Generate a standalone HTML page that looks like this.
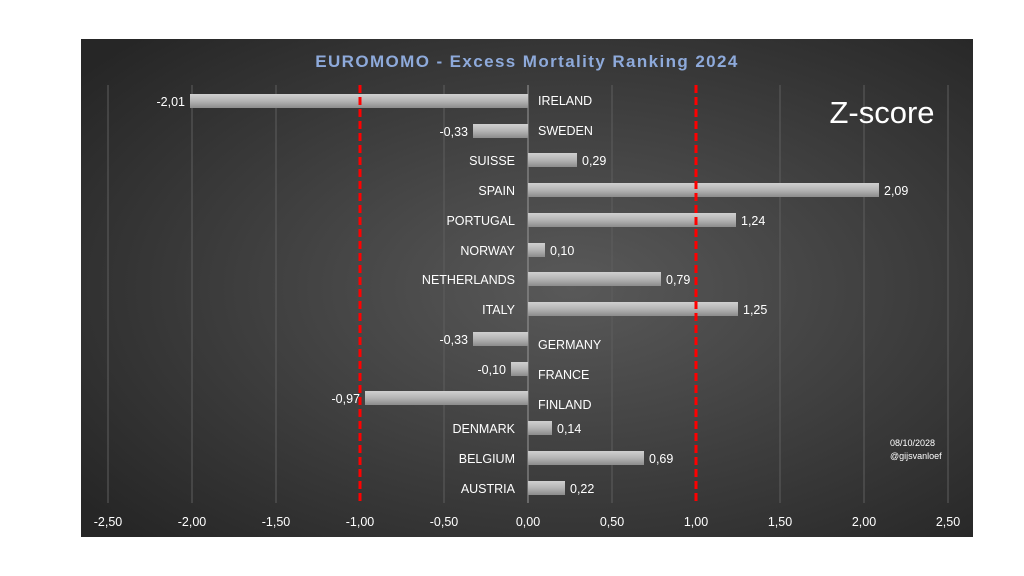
<!DOCTYPE html>
<html><head><meta charset="utf-8"><style>
body{margin:0;background:#fff;}
svg{display:block;font-family:"Liberation Sans",sans-serif;}
</style></head><body>
<svg width="1024" height="576" xmlns="http://www.w3.org/2000/svg">
<defs>
<radialGradient id="bg" cx="55%" cy="50%" r="70%">
<stop offset="0" stop-color="#595959"/><stop offset="1" stop-color="#262626"/>
</radialGradient>
<linearGradient id="bar" x1="0" y1="0" x2="0" y2="1">
<stop offset="0" stop-color="#d0d0d0"/><stop offset="0.5" stop-color="#b4b4b4"/><stop offset="1" stop-color="#8c8c8c"/>
</linearGradient>
</defs>
<rect x="81" y="39" width="892" height="498" fill="url(#bg)"/>
<text x="527" y="67" text-anchor="middle" font-size="17" font-weight="bold" fill="#8eaadb" letter-spacing="1.4">EUROMOMO - Excess Mortality Ranking  2024</text>
<g stroke="#5e5e5e" stroke-width="1">
<line x1="108" y1="85" x2="108" y2="503"/><line x1="192" y1="85" x2="192" y2="503"/>
<line x1="276" y1="85" x2="276" y2="503"/><line x1="444" y1="85" x2="444" y2="503"/>
<line x1="612" y1="85" x2="612" y2="503"/><line x1="780" y1="85" x2="780" y2="503"/>
<line x1="864" y1="85" x2="864" y2="503"/><line x1="948" y1="85" x2="948" y2="503"/>
</g>
<line x1="528" y1="85" x2="528" y2="503" stroke="#9a9a9a" stroke-width="1"/>
<g fill="url(#bar)">
<rect x="190" y="94" width="338" height="14"/>
<rect x="473" y="124" width="55" height="14"/>
<rect x="528" y="153" width="49" height="14"/>
<rect x="528" y="183" width="351" height="14"/>
<rect x="528" y="213" width="208" height="14"/>
<rect x="528" y="243" width="17" height="14"/>
<rect x="528" y="272" width="133" height="14"/>
<rect x="528" y="302" width="210" height="14"/>
<rect x="473" y="332" width="55" height="14"/>
<rect x="511" y="362" width="17" height="14"/>
<rect x="365" y="391" width="163" height="14"/>
<rect x="528" y="421" width="24" height="14"/>
<rect x="528" y="451" width="116" height="14"/>
<rect x="528" y="481" width="37" height="14"/>
</g>
<g stroke="#ff0000" stroke-width="3" stroke-dasharray="8,4">
<line x1="360" y1="85" x2="360" y2="503"/><line x1="696" y1="85" x2="696" y2="503"/>
</g>
<g font-size="12.5" fill="#fff">
<g text-anchor="start">
<text x="538" y="105">IRELAND</text><text x="538" y="135">SWEDEN</text>
<text x="538" y="349">GERMANY</text><text x="538" y="379">FRANCE</text><text x="538" y="409">FINLAND</text>
<text x="582" y="165">0,29</text><text x="884" y="195">2,09</text><text x="741" y="225">1,24</text>
<text x="550" y="255">0,10</text><text x="666" y="284">0,79</text><text x="743" y="314">1,25</text>
<text x="557" y="433">0,14</text><text x="649" y="463">0,69</text><text x="570" y="493">0,22</text>
</g>
<g text-anchor="end">
<text x="515" y="165">SUISSE</text><text x="515" y="195">SPAIN</text><text x="515" y="225">PORTUGAL</text>
<text x="515" y="255">NORWAY</text><text x="515" y="284">NETHERLANDS</text><text x="515" y="314">ITALY</text>
<text x="515" y="433">DENMARK</text><text x="515" y="463">BELGIUM</text><text x="515" y="493">AUSTRIA</text>
<text x="185" y="106">-2,01</text><text x="468" y="136">-0,33</text><text x="468" y="344">-0,33</text>
<text x="506" y="374">-0,10</text><text x="360" y="403">-0,97</text>
</g>
<g text-anchor="middle">
<text x="108" y="526">-2,50</text><text x="192" y="526">-2,00</text><text x="276" y="526">-1,50</text>
<text x="360" y="526">-1,00</text><text x="444" y="526">-0,50</text><text x="528" y="526">0,00</text>
<text x="612" y="526">0,50</text><text x="696" y="526">1,00</text><text x="780" y="526">1,50</text>
<text x="864" y="526">2,00</text><text x="948" y="526">2,50</text>
</g>
</g>
<text x="882" y="123" text-anchor="middle" font-size="31" fill="#fff">Z-score</text>
<text x="890" y="446" font-size="9" fill="#fff">08/10/2028</text>
<text x="890" y="459" font-size="9" fill="#fff">@gijsvanloef</text>
</svg>
</body></html>
